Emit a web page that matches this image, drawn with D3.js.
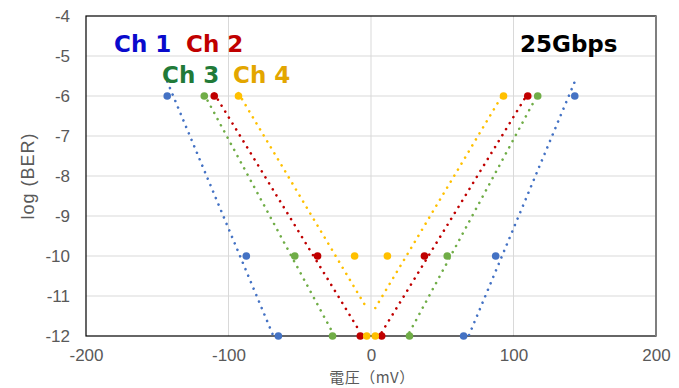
<!DOCTYPE html>
<html lang="ja">
<head>
  <meta charset="UTF-8">
  <title>BER vs 電圧 (25Gbps)</title>
  <script src="https://cdn.jsdelivr.net/npm/d3@7"></script>
  <style>
    body { margin: 0; background: #fff; }
    #chart { display: block; }
    .tick text { font-family: "Liberation Sans", Arial, sans-serif; font-size: 17px; fill: #595959; }
    .grid line { stroke: #d9d9d9; stroke-width: 1; }
    .label { font-family: "DejaVu Sans", Verdana, sans-serif; font-weight: bold; font-size: 23px; }
  </style>
</head>
<body>
  <svg id="chart" width="679" height="388"></svg>
  <script>
    // data
    const channels = ["Ch 1", "Ch 2", "Ch 3", "Ch 4"];
    const markerColors = ["#4472C4", "#C00000", "#70AD47", "#FFC000"];
    const labelColors  = ["#0A0ACC", "#C00000", "#217A38", "#E3A600"];
    const logBER = [-6, -10, -12];
    const leftMV  = [[-143, -87.5, -65], [-110, -37.5, -7.5], [-117, -53.5, -27], [-93, -11.5, -3]];
    const rightMV = [[143, 87.5, 65], [110, 37.5, 7.5], [117, 53.5, 27], [93, 11.5, 3]];
    // trendline ends: y at outer x and at inner x (same x as data extremes)
    const trendYOuter = [-5.64, -5.94, -5.96, -5.93];
    const trendYInner = [-12.3, -11.91, -11.91, -11.3];
    const xTicks = [-200, -100, 0, 100, 200];
    const yTicks = [-4, -5, -6, -7, -8, -9, -10, -11, -12];

    const svg = d3.select("#chart");
    const margin = { left: 86, top: 16, right: 23, bottom: 52 };
    const width  = 679 - margin.left - margin.right,
          height = 388 - margin.top - margin.bottom;

    const x = d3.scaleLinear().domain([-200, 200]).range([0, width]);
    const y = d3.scaleLinear().domain([-12, -4]).range([height, 0]);

    const g = svg.append("g").attr("transform", `translate(${margin.left},${margin.top})`);

    svg.append("defs").append("clipPath").attr("id", "clip")
      .append("rect").attr("width", width).attr("height", height);

    // gridlines
    g.append("g").attr("class", "grid")
      .selectAll("line").data(yTicks.slice(1, -1)).join("line")
        .attr("x1", 0).attr("x2", width)
        .attr("y1", d => y(d)).attr("y2", d => y(d));
    g.append("g").attr("class", "grid")
      .selectAll("line").data(xTicks.slice(1, -1)).join("line")
        .attr("x1", d => x(d)).attr("x2", d => x(d))
        .attr("y1", 0).attr("y2", height);

    // axes
    const xAxis = g.append("g").attr("transform", `translate(0,${height})`)
      .call(d3.axisBottom(x).tickValues(xTicks).tickSize(0).tickFormat(d => String(d)));
    xAxis.select(".domain").remove();
    xAxis.selectAll("text").attr("y", 13).attr("dy", "0.71em");

    const yAxis = g.append("g")
      .call(d3.axisLeft(y).tickValues(yTicks).tickSize(0).tickFormat(d => String(d)));
    yAxis.select(".domain").remove();
    yAxis.selectAll("text").attr("x", -16);

    // frame
    g.append("rect").attr("width", width).attr("height", height)
      .attr("fill", "none").attr("stroke", "#000").attr("stroke-width", 1.2);
    g.append("line").attr("x1", width).attr("x2", width).attr("y1", 0).attr("y2", height)
      .attr("stroke", "#7f7f7f").attr("stroke-width", 2);

    // markers
    const pts = [];
    channels.forEach((c, i) => {
      logBER.forEach((v, j) => {
        pts.push({ c: i, x: leftMV[i][j], y: v });
        pts.push({ c: i, x: rightMV[i][j], y: v });
      });
    });
    g.append("g").selectAll("circle").data(pts).join("circle")
      .attr("cx", d => x(d.x)).attr("cy", d => y(d.y)).attr("r", 3.8)
      .attr("fill", d => markerColors[d.c]);

    // dotted trendlines
    const line = d3.line().x(d => x(d[0])).y(d => y(d[1]));
    const trends = [];
    channels.forEach((c, i) => {
      trends.push({ c: i, pts: [[leftMV[i][0], trendYOuter[i]], [leftMV[i][2], trendYInner[i]]] });
      trends.push({ c: i, pts: [[rightMV[i][2], trendYInner[i]], [rightMV[i][0], trendYOuter[i]]] });
    });
    g.append("g").attr("clip-path", "url(#clip)")
      .selectAll("path").data(trends).join("path")
        .attr("d", d => line(d.pts))
        .attr("fill", "none")
        .attr("stroke", d => markerColors[d.c])
        .attr("stroke-width", 2.6)
        .attr("stroke-linecap", "round")
        .attr("stroke-dasharray", "0.01 7");

    // labels
    const labelPos = [[114, 52], [186, 52], [162, 83], [233, 83]];
    svg.append("g").selectAll("text").data(channels).join("text")
      .attr("class", "label")
      .attr("x", (d, i) => labelPos[i][0]).attr("y", (d, i) => labelPos[i][1])
      .attr("fill", (d, i) => labelColors[i])
      .text(d => d);
    svg.append("text").attr("class", "label").attr("x", 520).attr("y", 52)
      .attr("fill", "#000").text("25Gbps");

    // axis titles
    svg.append("text")
      .attr("transform", `translate(34,${margin.top + height / 2}) rotate(-90)`)
      .attr("text-anchor", "middle")
      .style("font-family", "'Liberation Sans', Arial, sans-serif")
      .style("font-size", "18px").style("letter-spacing", "1px").attr("fill", "#595959")
      .text("log (BER)");
    svg.append("text")
      .attr("x", margin.left + width / 2 + 1).attr("y", 383)
      .attr("text-anchor", "middle")
      .style("font-family", "'Noto Sans CJK JP', sans-serif")
      .style("font-size", "15px").style("letter-spacing", "0.5px").attr("fill", "#595959")
      .text("電圧（mV）");
  </script>
</body>
</html>
